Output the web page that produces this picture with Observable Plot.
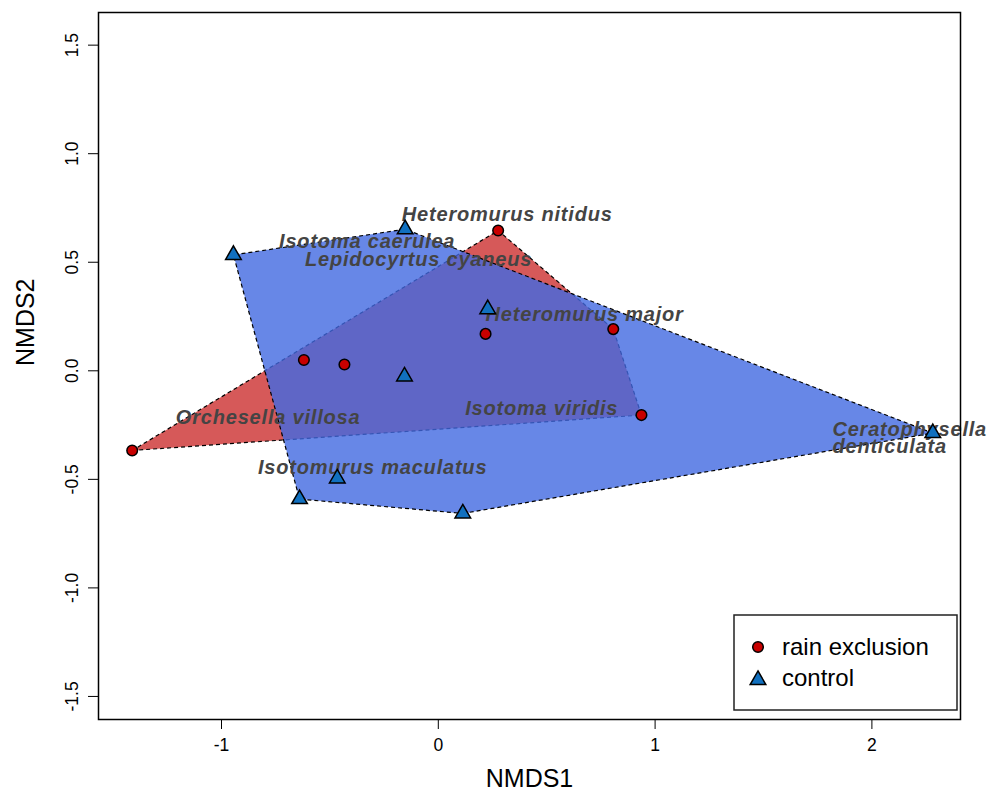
<!DOCTYPE html>
<html><head><meta charset="utf-8">
<script src="https://cdn.jsdelivr.net/npm/d3@7"></script>
<script src="https://cdn.jsdelivr.net/npm/@observablehq/plot@0.6"></script>
<style>
body{margin:0;background:#fff;}
#wrap{position:relative;width:989px;height:796px;font-family:"Liberation Sans",Arial,sans-serif;}
#wrap svg{display:block;}
g[font-style="italic"] text{letter-spacing:0.8px;}
#legend{position:absolute;left:0;top:0;}
</style></head><body><div id="wrap"></div>
<script>
// Site scores (NMDS1, NMDS2)
const rainX = [-1.412, -0.620, -0.433, 0.218, 0.276, 0.807, 0.937];
const rainY = [-0.367, 0.050, 0.029, 0.170, 0.646, 0.192, -0.204];
const controlX = [-0.945, -0.153, -0.156, 0.228, -0.466, -0.640, 0.113, 2.281];
const controlY = [0.534, 0.652, -0.026, 0.284, -0.496, -0.591, -0.657, -0.287];
// Species labels
const speciesNames = ["Heteromurus nitidus", "Isotoma caerulea", "Lepidocyrtus cyaneus", "Heteromurus major",
  "Isotoma viridis", "Orchesella villosa", "Isotomurus maculatus", "Ceratophysella\ndenticulata"];
const speciesX = [0.318, -0.328, -0.091, 0.675, 0.477, -0.785, -0.303, 1.818];
const speciesY = [0.721, 0.596, 0.512, 0.259, -0.176, -0.214, -0.448, -0.316];
const xTicks = [-1, 0, 1, 2];
const yTicks = [-1.5, -1, -0.5, 0, 0.5, 1, 1.5];
const groupNames = ["rain exclusion", "control"];
const xLabel = "NMDS1", yLabel = "NMDS2";

const rain = rainX.map((x, i) => ({x, y: rainY[i], group: groupNames[0]}));
const ctrl = controlX.map((x, i) => ({x, y: controlY[i], group: groupNames[1]}));
const species = speciesNames.map((name, i) => ({name, x: speciesX[i], y: speciesY[i]}));
const single = species.filter(d => !d.name.includes("\n"));
const multi = species.filter(d => d.name.includes("\n"));

const plot = Plot.plot({
  width: 989, height: 796,
  marginLeft: 98, marginRight: 29, marginTop: 12, marginBottom: 77,
  style: {fontFamily: "Liberation Sans, Arial, sans-serif", background: "#fff", color: "#000"},
  x: {domain: [-1.5674, 2.4087]},
  y: {domain: [-1.6062, 1.6504]},
  marks: [
    Plot.hull(rain, {x: "x", y: "y", fill: "#C00000", fillOpacity: 0.65, stroke: "#000", strokeWidth: 1.2, strokeDasharray: "4,3"}),
    Plot.hull(ctrl, {x: "x", y: "y", fill: "royalblue", fillOpacity: 0.8, stroke: "#000", strokeWidth: 1.2, strokeDasharray: "4,3"}),
    Plot.text(single, {x: "x", y: "y", text: "name", fontSize: 20, fontWeight: "bold", fontStyle: "italic", fill: "#444", textAnchor: "middle"}),
    Plot.text(multi, {x: "x", y: "y", text: "name", fontSize: 20, fontWeight: "bold", fontStyle: "italic", fill: "#444", textAnchor: "start", lineHeight: 0.85}),
    Plot.dot(rain, {x: "x", y: "y", r: 5.3, fill: "#C80000", stroke: "#000", strokeWidth: 1.5}),
    Plot.dot(ctrl, {x: "x", y: "y", symbol: "triangle", r: 5.8, fill: "#1170BF", stroke: "#000", strokeWidth: 1.5}),
    Plot.frame({stroke: "#000", strokeWidth: 1.5}),
    Plot.axisX({ticks: xTicks, tickFormat: d => String(d), tickSize: 10, tickPadding: 9, fontSize: 17.5, label: null}),
    Plot.axisY({ticks: yTicks, tickFormat: d => d.toFixed(1), tickSize: 10, tickPadding: 11, tickRotate: -90, fontSize: 17.5, label: null}),
    Plot.text([xLabel], {text: d => d, frameAnchor: "bottom", dy: 67, fontSize: 25, fill: "#000"}),
    Plot.text([yLabel], {text: d => d, frameAnchor: "left", dx: -73, rotate: -90, fontSize: 25, fill: "#000"})
  ]
});
const wrap = document.getElementById("wrap");
wrap.appendChild(plot);

// Legend overlay inside the plot area (bottom-right)
const leg = d3.select(wrap).append("svg").attr("id", "legend").attr("width", 989).attr("height", 796)
  .style("pointer-events", "none");
const g = leg.append("g");
g.append("rect").attr("x", 734).attr("y", 615).attr("width", 223).attr("height", 95)
  .attr("fill", "#fff").attr("stroke", "#222").attr("stroke-width", 1.5);
g.append("circle").attr("cx", 758).attr("cy", 647).attr("r", 5.3).attr("fill", "#C80000").attr("stroke", "#000").attr("stroke-width", 1.5);
g.append("path").attr("d", d3.symbol(d3.symbolTriangle, Math.PI * 5.8 * 5.8)()).attr("transform", "translate(758,680)")
  .attr("fill", "#1170BF").attr("stroke", "#000").attr("stroke-width", 1.5);
g.selectAll("text.lab").data(groupNames).join("text").attr("class", "lab")
  .attr("x", 782).attr("y", (d, i) => 655 + i * 31).attr("font-size", 24)
  .attr("font-family", "Liberation Sans, Arial, sans-serif").attr("fill", "#000").text(d => d);
</script>
</body></html>
